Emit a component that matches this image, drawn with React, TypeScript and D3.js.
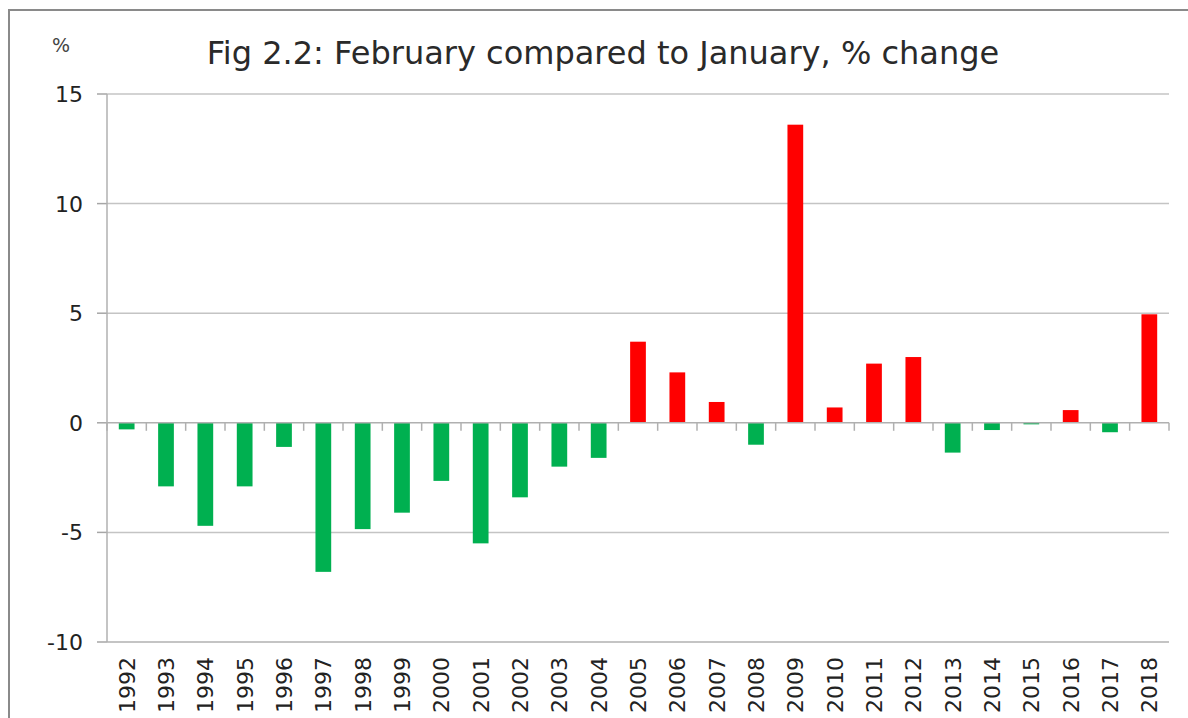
import React from 'react'
import * as d3 from 'd3'

const years = ['1992','1993','1994','1995','1996','1997','1998','1999','2000','2001','2002','2003','2004','2005','2006','2007','2008','2009','2010','2011','2012','2013','2014','2015','2016','2017','2018']
const changes = [-0.3,-2.9,-4.7,-2.9,-1.1,-6.8,-4.85,-4.1,-2.65,-5.5,-3.4,-2.0,-1.6,3.7,2.3,0.95,-1.0,13.6,0.7,2.7,3.0,-1.36,-0.33,-0.07,0.58,-0.43,4.95]
const yTicks = [-10, -5, 0, 5, 10, 15]

const W = 1188
const H = 718
const left = 107
const right = 1169
const top = 94
const bottom = 642
const font = '"DejaVu Sans", Verdana, sans-serif'

export default function App() {
    const x = d3.scaleBand().domain(years).range([left, right]).paddingInner(0.6).paddingOuter(0.3)
    const y = d3.scaleLinear().domain([-10, 15]).range([bottom, top])
    const step = (right - left) / years.length
    const bounds = d3.range(years.length + 1).map(i => left + i * step)

    return (
        <div style={{ position: 'fixed', left: 0, top: 0, width: W, height: H, overflow: 'hidden', background: '#fff' }}>
        <svg width={W} height={H} style={{ display: 'block' }}>
            {/* outer chart frame, only top and left edges are in view */}
            <path d={`M9,${H} V10 H${W}`} fill="none" stroke="#8a8a8a" strokeWidth={2} />
            <text x={603} y={64} textAnchor="middle" fontFamily={font} fontSize={32} fill="#2a2a2a">
                Fig 2.2: February compared to January, % change
            </text>
            <text x={61} y={52} textAnchor="middle" fontFamily={font} fontSize={19} fill="#444">%</text>

            {yTicks.map(t => (
                <g key={t}>
                    {t !== 0 && t !== -10 && (
                        <line x1={left} x2={right} y1={y(t)} y2={y(t)} stroke="#c4c4c4" strokeWidth={1.5} />
                    )}
                    <line x1={left - 10} x2={left} y1={y(t)} y2={y(t)} stroke="#a6a6a6" strokeWidth={1.5} />
                    <text x={83} y={y(t)} dy="0.36em" textAnchor="end" fontFamily={font} fontSize={22} fill="#222">{t}</text>
                </g>
            ))}
            <line x1={left} x2={right} y1={bottom} y2={bottom} stroke="#b0b0b0" strokeWidth={1.5} />
            <line x1={left} x2={left} y1={top} y2={bottom} stroke="#b0b0b0" strokeWidth={1.5} />

            {years.map((yr, i) => {
                const v = changes[i]
                return (
                    <rect key={yr} x={x(yr)} width={x.bandwidth()}
                        y={y(Math.max(0, v))} height={Math.abs(y(v) - y(0))}
                        fill={v >= 0 ? '#ff0000' : '#00b050'} />
                )
            })}

            <line x1={left} x2={right} y1={y(0)} y2={y(0)} stroke="#b0b0b0" strokeWidth={1.5} />
            {bounds.map((b, i) => (
                <line key={i} x1={b} x2={b} y1={y(0)} y2={y(0) + 8} stroke="#b0b0b0" strokeWidth={1.5} />
            ))}

            {years.map(yr => {
                const cx = (x(yr) as number) + x.bandwidth() / 2
                return (
                    <text key={yr} transform={`translate(${cx},657) rotate(-90)`} textAnchor="end" dy="0.36em"
                        fontFamily={font} fontSize={22} fill="#222">{yr}</text>
                )
            })}
        </svg>
        </div>
    )
}
